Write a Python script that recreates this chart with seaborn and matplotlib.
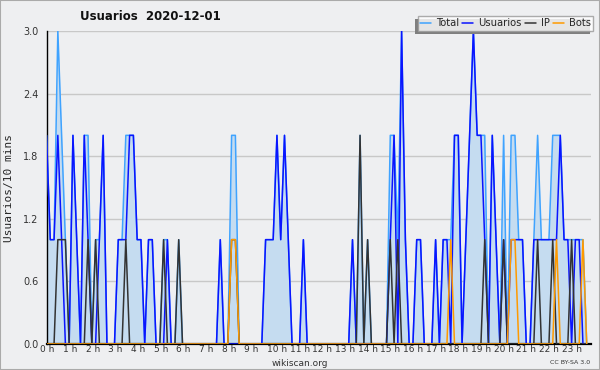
import numpy as np
import pandas as pd
import seaborn as sns
import matplotlib.pyplot as plt
import matplotlib.transforms as mtransforms
from matplotlib.ticker import MultipleLocator, FormatStrFormatter
from matplotlib.patches import Rectangle

# one value per 10 minutes, one row per hour
usuarios = [2, 1, 1, 2, 1, 0,  0, 2, 1, 0, 2, 1,  0, 0, 1, 2, 0, 0,  0, 1, 1, 1, 2, 2,
            1, 1, 0, 1, 1, 0,  0, 0, 1, 0, 0, 0,  0, 0, 0, 0, 0, 0,  0, 0, 0, 0, 1, 0,
            0, 0, 0, 0, 0, 0,  0, 0, 0, 0, 1, 1,  1, 2, 1, 2, 1, 0,  0, 0, 1, 0, 0, 0,
            0, 0, 0, 0, 0, 0,  0, 0, 0, 1, 0, 0,  0, 0, 0, 0, 0, 0,  0, 1, 2, 0, 3, 1,
            0, 0, 1, 1, 0, 0,  0, 1, 0, 1, 1, 0,  2, 2, 0, 1, 2, 3,  2, 2, 1, 0, 2, 1,
            0, 1, 0, 1, 1, 1,  1, 0, 0, 1, 1, 1,  1, 1, 1, 1, 2, 1,  1, 0, 1, 1, 0, 0]
ip = [0, 0, 0, 1, 1, 1,  0, 0, 0, 0, 0, 1,  0, 1, 0, 0, 0, 0,  0, 0, 0, 1, 0, 0,
      0, 0, 0, 0, 0, 0,  0, 1, 0, 0, 0, 1,  0, 0, 0, 0, 0, 0,  0, 0, 0, 0, 0, 0,
      0, 1, 1, 0, 0, 0,  0, 0, 0, 0, 0, 0,  0, 0, 0, 0, 0, 0,  0, 0, 0, 0, 0, 0,
      0, 0, 0, 0, 0, 0,  0, 0, 0, 0, 0, 2,  0, 1, 0, 0, 0, 0,  0, 1, 0, 1, 0, 0,
      0, 0, 0, 0, 0, 0,  0, 0, 0, 0, 0, 0,  0, 0, 0, 0, 0, 0,  0, 0, 1, 0, 0, 0,
      0, 1, 0, 0, 0, 0,  0, 0, 0, 0, 1, 0,  0, 0, 1, 0, 0, 0,  0, 1, 0, 0, 0, 0]
bots = [0, 0, 0, 0, 0, 0,  0, 0, 0, 0, 0, 0,  0, 0, 0, 0, 0, 0,  0, 0, 0, 0, 0, 0,
        0, 0, 0, 0, 0, 0,  0, 0, 0, 0, 0, 0,  0, 0, 0, 0, 0, 0,  0, 0, 0, 0, 0, 0,
        0, 1, 1, 0, 0, 0,  0, 0, 0, 0, 0, 0,  0, 0, 0, 0, 0, 0,  0, 0, 0, 0, 0, 0,
        0, 0, 0, 0, 0, 0,  0, 0, 0, 0, 0, 0,  0, 0, 0, 0, 0, 0,  0, 0, 0, 0, 0, 0,
        0, 0, 0, 0, 0, 0,  0, 0, 0, 0, 0, 1,  0, 0, 0, 0, 0, 0,  0, 0, 0, 0, 0, 0,
        0, 0, 0, 1, 1, 0,  0, 0, 0, 0, 0, 0,  0, 0, 0, 1, 0, 0,  0, 0, 0, 0, 1, 0]
total = [2, 1, 1, 3, 2, 1,  0, 2, 1, 0, 2, 2,  0, 1, 1, 2, 0, 0,  0, 1, 1, 2, 2, 2,
         1, 1, 0, 1, 1, 0,  0, 1, 1, 0, 0, 1,  0, 0, 0, 0, 0, 0,  0, 0, 0, 0, 1, 0,
         0, 2, 2, 0, 0, 0,  0, 0, 0, 0, 1, 1,  1, 2, 1, 2, 1, 0,  0, 0, 1, 0, 0, 0,
         0, 0, 0, 0, 0, 0,  0, 0, 0, 1, 0, 2,  0, 1, 0, 0, 0, 0,  0, 2, 2, 1, 3, 1,
         0, 0, 1, 1, 0, 0,  0, 1, 0, 1, 1, 1,  2, 2, 0, 1, 2, 3,  2, 2, 2, 0, 2, 1,
         0, 2, 0, 2, 2, 1,  1, 0, 0, 1, 2, 1,  1, 1, 2, 2, 2, 1,  1, 1, 1, 1, 1, 0]
series_names = ["Total", "Usuarios", "IP", "Bots"]
hour_labels = [f"{h} h" for h in range(24)]

colors = {"Total": "#3fa3ff", "Usuarios": "#0a14ff", "IP": "#333333", "Bots": "#ff9a00"}
bg = "#eeeff1"

hora = np.arange(len(total)) / 6.0
df = pd.DataFrame({"hora": hora, "Total": total, "Usuarios": usuarios,
                   "IP": ip, "Bots": bots})
long_df = df.melt(id_vars="hora", value_vars=series_names,
                  var_name="serie", value_name="valor")

sns.set_style("white")
plt.rcParams["font.family"] = ["DejaVu Sans"]

fig = plt.figure(figsize=(6, 3.7), dpi=100, facecolor=bg)
ax = fig.add_axes([46.5 / 600, 26 / 370, 544 / 600, 313 / 370])
ax.set_facecolor(bg)

ax.fill_between(df["hora"], df["Total"], color="#c5dcf0", lw=0, zorder=1)
sns.lineplot(data=long_df, x="hora", y="valor", hue="serie",
             hue_order=series_names, palette=colors, linewidth=1.1,
             ax=ax, zorder=3, legend=False)

ax.set_xlim(0, 24)
ax.set_ylim(0, 3.0)
ax.yaxis.set_major_locator(MultipleLocator(0.6))
ax.yaxis.set_minor_locator(MultipleLocator(0.15))
ax.yaxis.set_major_formatter(FormatStrFormatter("%.1f"))
ax.set_xticks(range(24))
ax.set_xticklabels(hour_labels)
ax.xaxis.set_minor_locator(MultipleLocator(1 / 6))
ax.grid(axis="y", color="#c8c8c8", lw=1)
ax.set_axisbelow(True)

for s in ["top", "right"]:
    ax.spines[s].set_visible(False)
ax.spines["left"].set_color("black")
ax.spines["bottom"].set_color("black")
ax.spines["bottom"].set_linewidth(1.6)
ax.spines["left"].set_linewidth(1.0)

ax.tick_params(axis="y", which="major", direction="out", length=5, width=0.8,
               labelsize=7, pad=1, colors="#333333")
ax.tick_params(axis="y", which="minor", direction="out", length=3, width=0.8,
               colors="#333333")
ax.tick_params(axis="x", which="major", direction="out", length=4, width=1,
               labelsize=6.5, pad=-3, colors="#333333")
ax.tick_params(axis="x", which="minor", direction="out", length=4, width=1,
               colors="black")
shift = mtransforms.ScaledTranslation(-6 / 100, 0, fig.dpi_scale_trans)
for lab in ax.get_xticklabels():
    lab.set_horizontalalignment("left")
    lab.set_transform(lab.get_transform() + shift)

ax.set_xlabel("")
ax.set_ylabel("Usuarios/10 mins", family="DejaVu Sans Mono", fontsize=8,
              labelpad=6)

handles = [plt.Line2D([], [], color=colors[n], lw=1.1) for n in series_names]
leg = fig.legend(handles, series_names, loc="upper right", ncol=4,
                 bbox_to_anchor=(593 / 600, 1 - 16 / 370), fontsize=7.2,
                 frameon=True, fancybox=False, shadow=False, handlelength=1.1,
                 handletextpad=0.5, columnspacing=0.3, borderpad=0.25,
                 borderaxespad=0)
leg.get_frame().set_edgecolor("#999999")
leg.get_frame().set_linewidth(1)
leg.set_zorder(5)

# legend shadow, offset down and to the left
fig.canvas.draw()
bb = leg.get_window_extent()
fig.patches.append(Rectangle((bb.x0 - 3, bb.y0 - 3), bb.width, bb.height,
                             transform=None, facecolor="#7f7f7f",
                             edgecolor="none", zorder=4))

fig.text(150 / 600, 1 - 17 / 370, "Usuarios  2020-12-01", ha="center",
         va="center", fontsize=8.5, fontweight="bold", color="#111111")
fig.text(300 / 600, 1 - 363 / 370, "wikiscan.org", ha="center", va="center",
         fontsize=6.5, color="#333333")
fig.text(590 / 600, 1 - 363 / 370, "CC BY-SA 3.0", ha="right", va="center",
         fontsize=4.5, color="#333333")
fig.patches.append(Rectangle((0, 0), 1, 1, transform=fig.transFigure,
                             fill=False, edgecolor="#aaaaaa", lw=1.5))

fig.savefig("out.png", dpi=100, facecolor=bg)
